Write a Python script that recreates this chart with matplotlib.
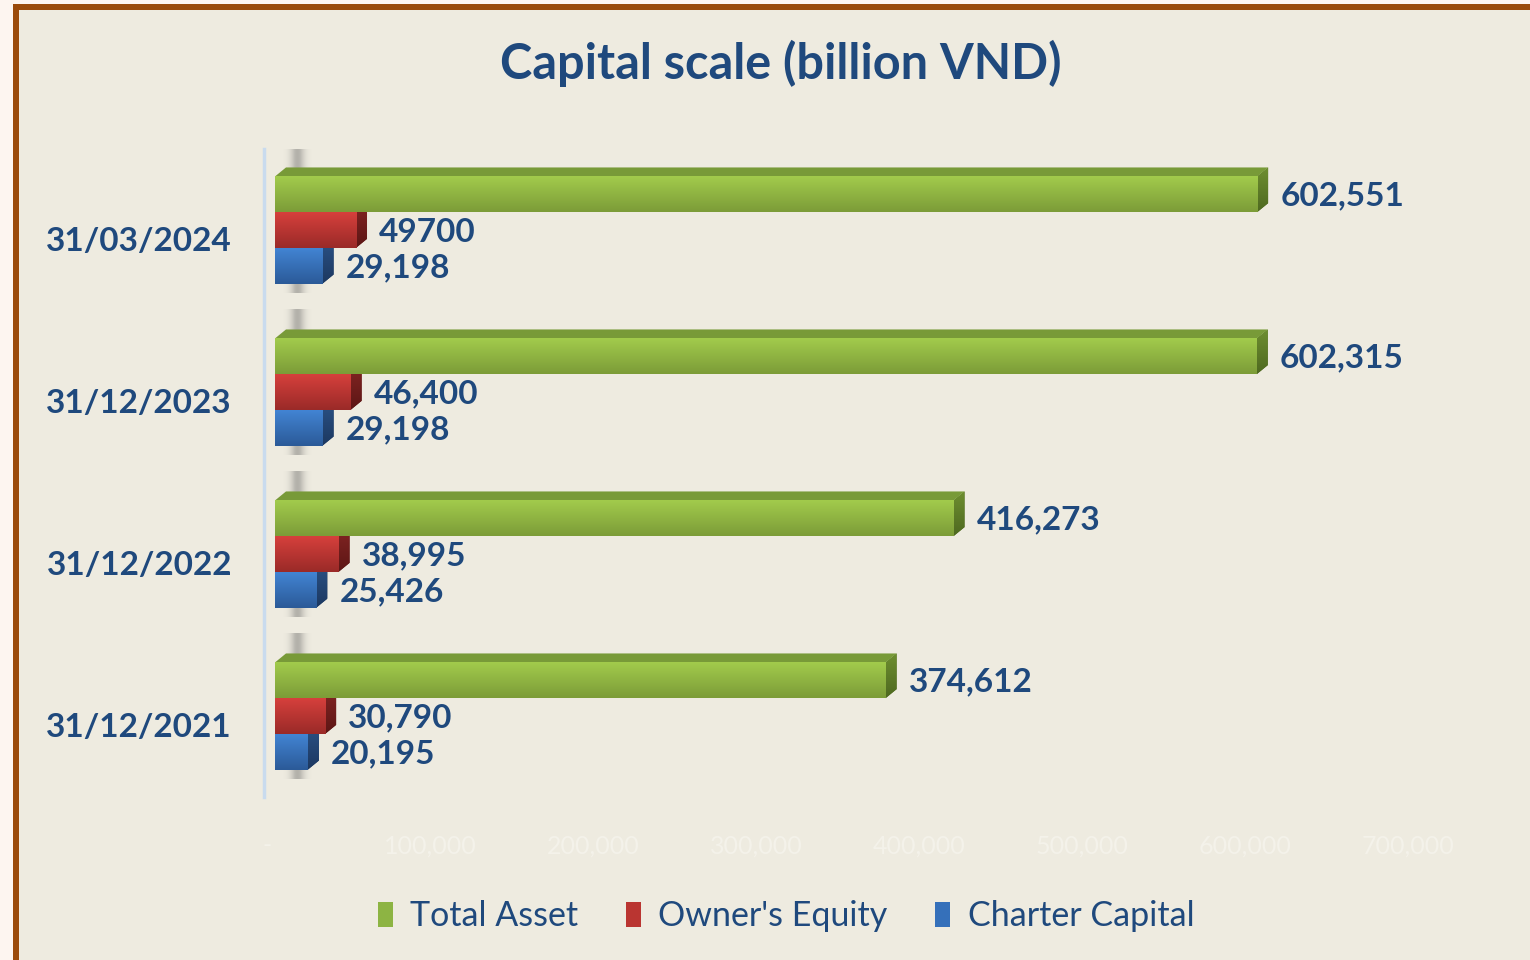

# capital_scale.py
# horizontal 3D-style bar chart of capital scale (billion VND)
import matplotlib
matplotlib.use("Agg")
import matplotlib.pyplot as plt
import matplotlib.transforms as mtransforms
from matplotlib.patches import Rectangle, Polygon, Patch
import numpy as np

# data
dates = ["31/12/2021", "31/12/2022", "31/12/2023", "31/03/2024"]
total_asset = [374612, 416273, 602315, 602551]
owners_equity = [30790, 38995, 46400, 49700]
charter_capital = [20195, 25426, 29198, 29198]
# labels as printed on the chart (one is not comma formatted)
total_labels = ["374,612", "416,273", "602,315", "602,551"]
equity_labels = ["30,790", "38,995", "46,400", "49700"]
charter_labels = ["20,195", "25,426", "29,198", "29,198"]
xticks = [0, 100000, 200000, 300000, 400000, 500000, 600000, 700000]

plt.rcParams['font.family'] = ['Lato', 'DejaVu Sans']
navy = "#1F497D"

W, H = 1530, 960
fig = plt.figure(figsize=(W / 100, H / 100), dpi=100)
fig.patch.set_facecolor("#FDF5F0")

# brown frame, only top and left edges show
fig.patches.append(Rectangle((13 / W, -0.1), 1.2, (H + 96 - 4) / H, transform=fig.transFigure,
                             facecolor="#9A4A0A", edgecolor="none", zorder=-3))
fig.patches.append(Rectangle((19 / W, -0.1), 1.2, (H + 96 - 10) / H, transform=fig.transFigure,
                             facecolor="#EEEBE0", edgecolor="none", zorder=-2))

x0_px, x1_px = 275, 1416
top_px, bot_px = 149, 797
ax = fig.add_axes([x0_px / W, 1 - bot_px / H, (x1_px - x0_px) / W, (bot_px - top_px) / H])
ax.set_facecolor("none")

# spines first, moving a spine resets the tick labels
for s in ["top", "right", "bottom"]:
    ax.spines[s].set_visible(False)
ax.spines['left'].set_position(('outward', 8))
ax.spines['left'].set_color("#C9DBEE")
ax.spines['left'].set_linewidth(2.5)

xmax = 700000
ppx = (x1_px - x0_px) / xmax           # pixels per unit
ppy = (bot_px - top_px) / 4.0          # pixels per category
h = 35.7 / ppy                         # bar thickness
dx = 11 / ppx                          # 3D depth
dy = 9 / ppy

def grad(c_top, c_bot):
    a = np.array(matplotlib.colors.to_rgb(c_top))
    b = np.array(matplotlib.colors.to_rgb(c_bot))
    t = np.linspace(0, 1, 64)[:, None]
    return (a + (b - a) * t)[:, None, :]

series = [
    # values, labels, offset, front top, front bottom, side top, side bottom
    (charter_capital, charter_labels, -h, "#4284D3", "#2B5A98", "#2B5286", "#1C3860"),
    (owners_equity, equity_labels, 0.0, "#D6403C", "#9A2A28", "#832523", "#5C1615"),
    (total_asset, total_labels, h, "#A2CB4C", "#7C9C38", "#6E8E30", "#4E6920"),
]

y = np.arange(len(dates))

# soft shadow of the back wall near the axis
for yi in y:
    sh = np.zeros((1, 40, 4))
    xs = np.linspace(-1, 1, 40)
    sh[0, :, :3] = 0.35
    sh[0, :, 3] = 0.4 * np.exp(-(xs * 2.5) ** 2)
    ax.imshow(sh, extent=[3000, 24000, yi - 1.5 * h - 0.06, yi + 1.5 * h + 0.18],
              aspect='auto', interpolation='bilinear', zorder=0.5)

for vals, labs, off, ft, fb, st, sb in series:
    for yi, v, lab in zip(y, vals, labs):
        yb = yi + off - h / 2
        yt = yi + off + h / 2
        # side face
        side = Polygon([(v, yb), (v, yt), (v + dx, yt + dy), (v + dx, yb + dy)], closed=True,
                       facecolor=sb, edgecolor="none", zorder=2)
        ax.add_patch(side)
        im = ax.imshow(grad(st, sb), extent=[v, v + dx, yb, yt + dy], aspect='auto',
                       interpolation='bilinear', zorder=2)
        im.set_clip_path(side)
        # top face, only visible on the upper bar
        if off > 0:
            ax.add_patch(Polygon([(0, yt), (v, yt), (v + dx, yt + dy), (dx, yt + dy)], closed=True,
                                 facecolor="#789A38", edgecolor="none", zorder=2))
        # front face
        ax.imshow(grad(ft, fb), extent=[0, v, yb, yt], aspect='auto',
                  interpolation='bilinear', zorder=3)
        ax.annotate(lab, (v, yi + off), xytext=(23, -2), textcoords='offset pixels',
                    ha='left', va='center', fontsize=24, fontweight='bold', color=navy, zorder=5)

ax.set_xlim(0, xmax)
ax.set_ylim(-0.5, len(dates) - 0.5)

# category labels
ax.set_yticks(y - 9 / ppy)
ax.set_yticklabels(dates, fontsize=24, fontweight='bold', color=navy)
ax.tick_params(axis='y', length=0, pad=23)

# nearly invisible value axis
ax.set_xticks(xticks)
ax.set_xticklabels(["-" if t == 0 else f"{t:,}" for t in xticks], fontsize=18, color="#F4F2EA")
ax.tick_params(axis='x', length=0, pad=27)
shift = mtransforms.ScaledTranslation(-8 / 100, 0, fig.dpi_scale_trans)
for lbl in ax.get_xticklabels():
    lbl.set_transform(lbl.get_transform() + shift)

fig.text(781 / W, 1 - 63 / H, "Capital scale (billion VND)", ha='center', va='center',
         fontsize=35, fontweight='bold', color=navy)

handles = [Patch(facecolor="#8DB443", label="Total Asset"),
           Patch(facecolor="#BA3531", label="Owner's Equity"),
           Patch(facecolor="#3570BA", label="Charter Capital")]
leg = fig.legend(handles=handles, loc='center', bbox_to_anchor=(786 / W, 1 - 916 / H), ncol=3,
                 frameon=False, fontsize=24.5, handlelength=0.45, handleheight=0.75,
                 handletextpad=0.5, columnspacing=1.4)
for t in leg.get_texts():
    t.set_color(navy)

fig.savefig("out.png", dpi=100, facecolor=fig.get_facecolor())
